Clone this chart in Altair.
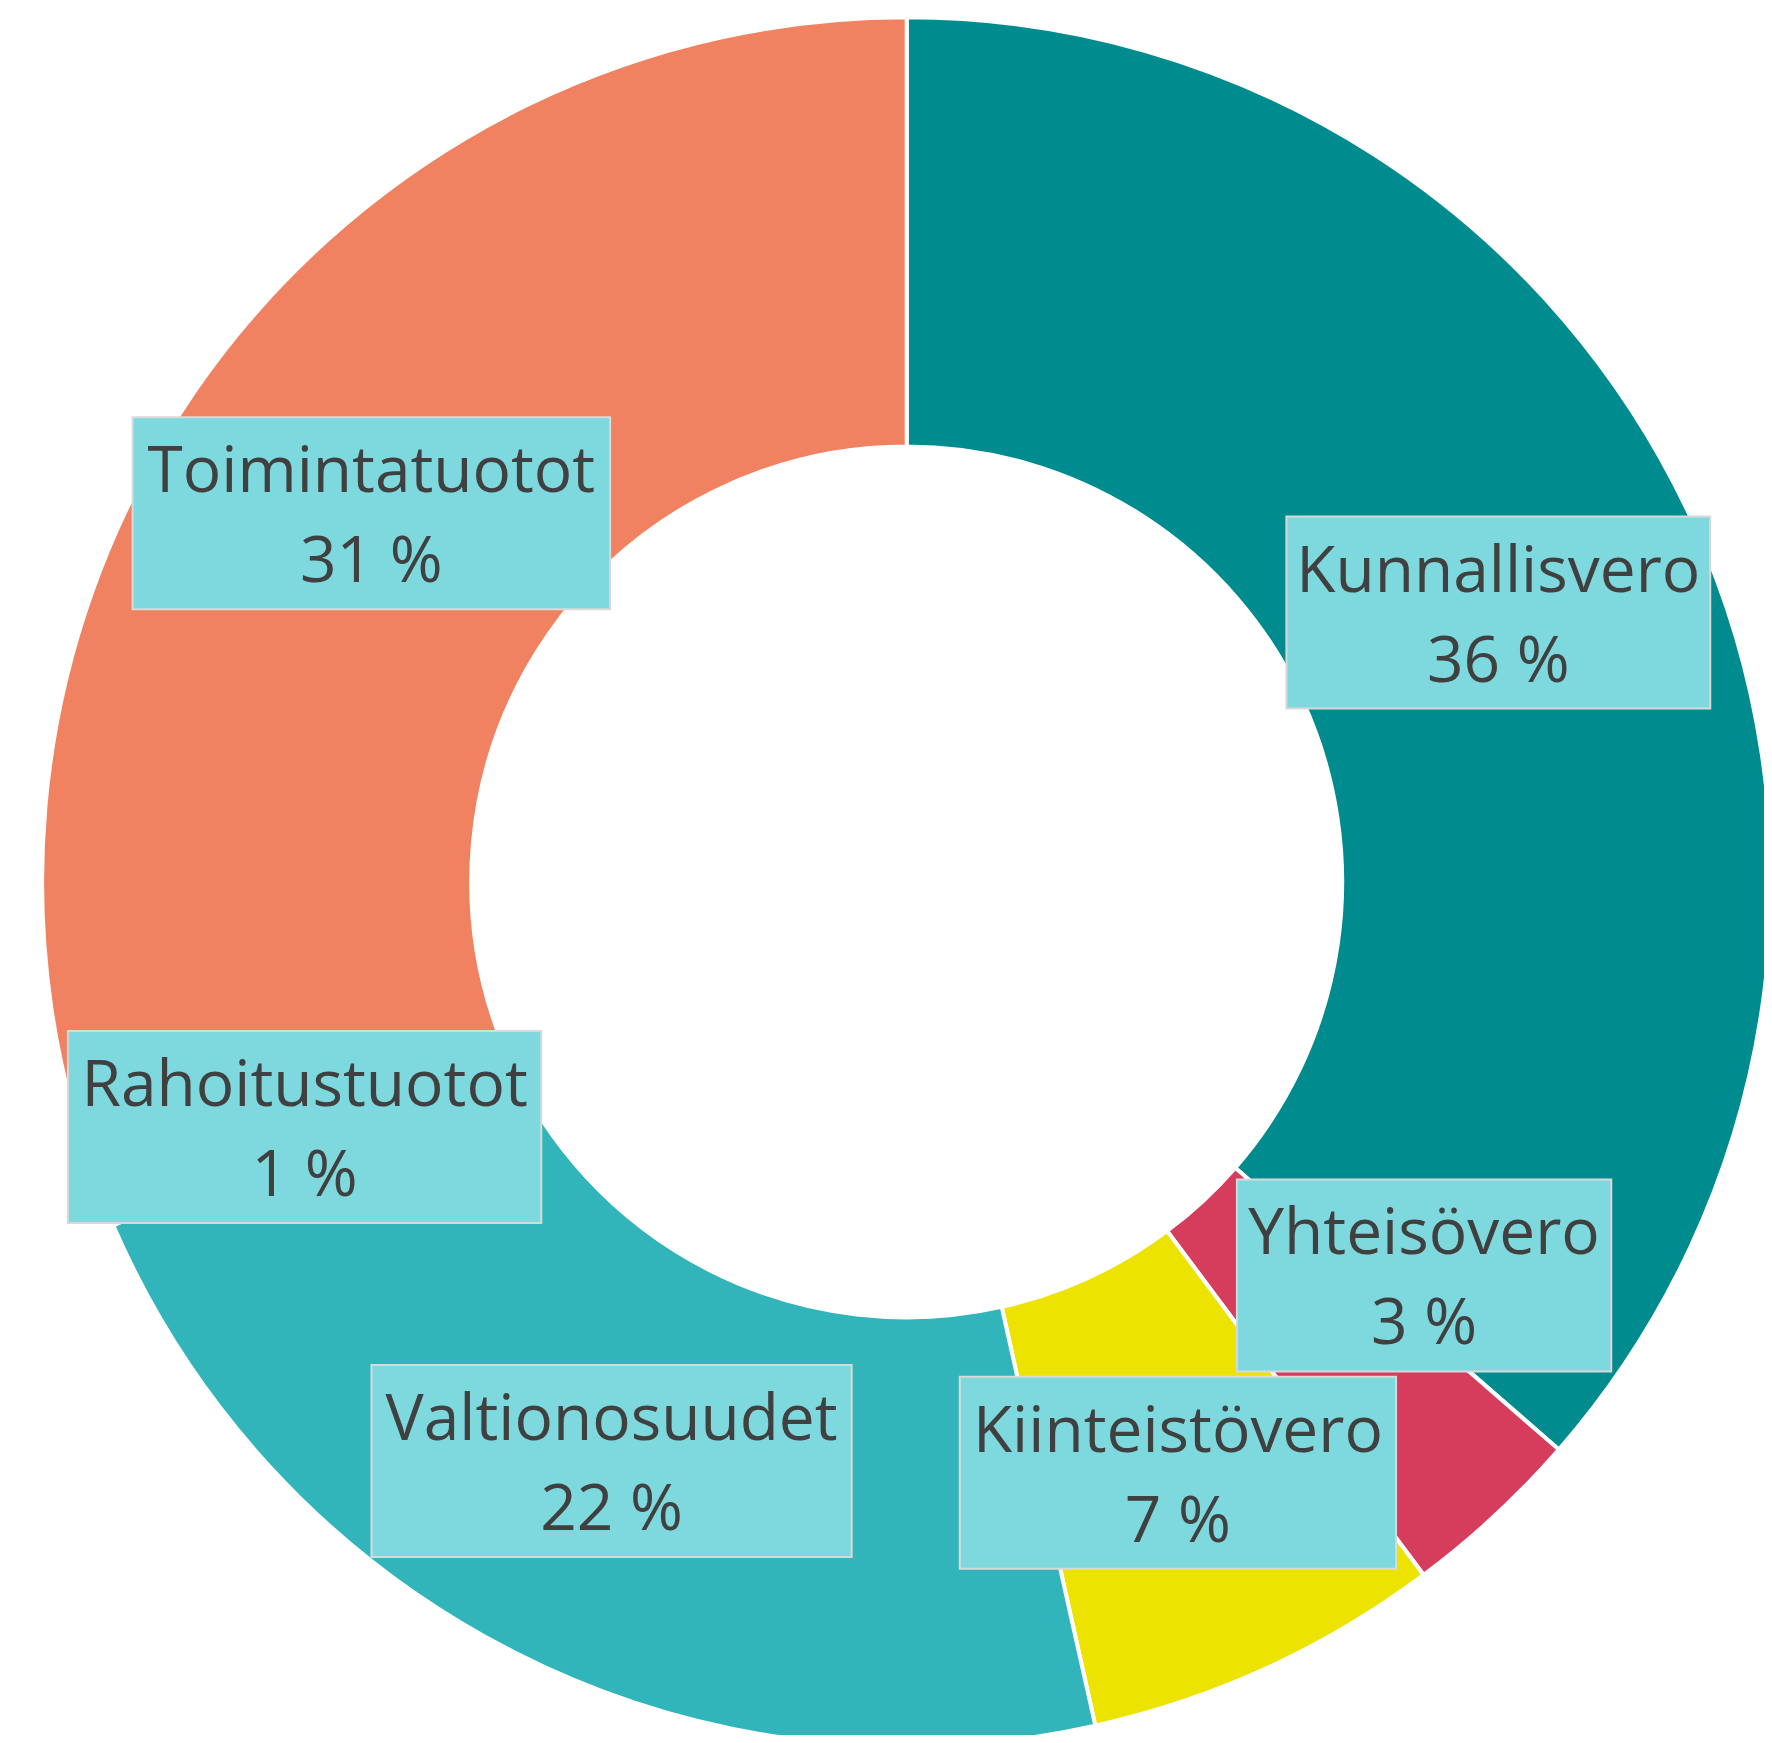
import altair as alt
import pandas as pd

# ---- data ----
categories = ["Kunnallisvero", "Yhteisövero", "Kiinteistövero",
              "Valtionosuudet", "Rahoitustuotot", "Toimintatuotot"]
shares = [36.4, 3.4, 6.7, 22.0, 0.7, 30.8]
colors = ["#008B8F", "#D63C5C", "#EDE300", "#31B5BA", "#7F7F7F", "#F08262"]
percent_labels = [f"{round(v)} %" for v in shares]

# ---- layout / style ----
W, H = 1756, 1727
CX, CY = 898.7, 873.9
R_OUT, R_IN = 864.6, 435.5
R_LAB = (R_OUT + R_IN) / 2
REF_FONT_PX = 75
FONT = "Open Sans"
FONT_SIZE = 64
LINE_H = 90
BOX_H = 192
BOX_PAD = 13
# Excel nudged this label along the ring to avoid overlapping its neighbour
angle_nudge = {"Yhteisövero": -9.9}

# approximate Calibri advance widths (em) used to size the label boxes
_cw = {'T': .487, 'o': .527, 'i': .229, 'm': .799, 'n': .525, 't': .335,
       'a': .479, 'u': .525, 'K': .520, 'l': .229, 's': .391, 'v': .452,
       'e': .498, 'r': .349, 'R': .543, 'h': .525, 'Y': .487, 'ö': .527,
       'V': .579, 'd': .525}


def text_w(s):
    return sum(_cw.get(c, .5) for c in s) * REF_FONT_PX


df = pd.DataFrame({
    "idx": list(range(len(categories))),
    "category": categories,
    "share": shares,
    "label": [f"{c}\n{p}" for c, p in zip(categories, percent_labels)],
    "bw": [text_w(c) + BOX_PAD for c in categories],
    "nudge": [angle_nudge.get(c, 0.0) for c in categories],
})

xs = alt.Scale(domain=[-CX, W - CX], nice=False, zero=False)
ys = alt.Scale(domain=[-(H - CY), CY], nice=False, zero=False)

base = alt.Chart(df)

arcs = base.mark_arc(innerRadius=R_IN, outerRadius=R_OUT, stroke="white",
                     strokeWidth=4).encode(
    theta=alt.Theta("share:Q", stack=True),
    color=alt.Color("category:N", scale=alt.Scale(domain=categories, range=colors),
                    legend=None),
    order=alt.Order("idx:Q"),
    x=alt.value(CX),
    y=alt.value(CY),
)

pos = base.transform_joinaggregate(
    total="sum(share)"
).transform_window(
    cum="sum(share)", sort=[alt.SortField("idx")], frame=[None, 0]
).transform_calculate(
    ang="2*PI*(datum.cum - datum.share/2)/datum.total + datum.nudge*PI/180"
).transform_calculate(
    lx=f"{R_LAB}*sin(datum.ang)",
    ly=f"{R_LAB}*cos(datum.ang)",
).transform_calculate(
    bx1="datum.lx - datum.bw/2",
    bx2="datum.lx + datum.bw/2",
    by1=f"datum.ly - {BOX_H/2}",
    by2=f"datum.ly + {BOX_H/2}",
)

boxes = pos.mark_rect(fill="#7DD9DE", stroke="#D9D9D9", strokeWidth=2).encode(
    x=alt.X("bx1:Q", scale=xs, axis=None),
    x2="bx2:Q",
    y=alt.Y("by1:Q", scale=ys, axis=None),
    y2="by2:Q",
)

texts = pos.mark_text(font=FONT, fontSize=FONT_SIZE, color="#404040",
                      lineBreak="\n", lineHeight=LINE_H, align="center",
                      baseline="middle", dy=-40).encode(
    x=alt.X("lx:Q", scale=xs, axis=None),
    y=alt.Y("ly:Q", scale=ys, axis=None),
    text="label:N",
)

chart = alt.layer(arcs, boxes, texts).properties(
    width=W, height=H,
    autosize=alt.AutoSizeParams(type="none"),
    padding=0,
    background="white",
).configure_view(stroke=None)

chart.save("out.html", embed_options={"renderer": "svg", "actions": False})
